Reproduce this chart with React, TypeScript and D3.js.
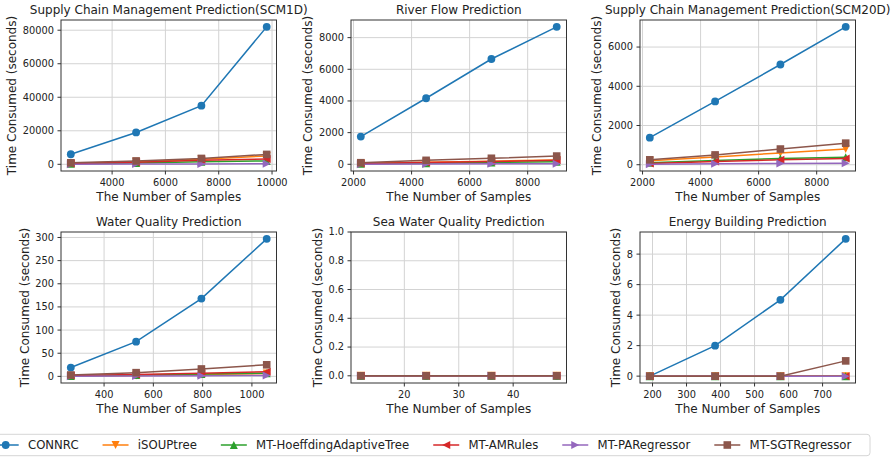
import React from "react";
import * as d3 from "d3";

// series / legend
const seriesNames = [
  "CONNRC",
  "iSOUPtree",
  "MT-HoeffdingAdaptiveTree",
  "MT-AMRules",
  "MT-PARegressor",
  "MT-SGTRegressor",
];
const seriesColors = ["#1f77b4", "#ff7f0e", "#2ca02c", "#d62728", "#9467bd", "#8c564b"];
const seriesMarkers = ["circle", "down", "up", "left", "right", "square"];

// Supply Chain Management Prediction(SCM1D)
const scm1dSamples = [2450, 4900, 7350, 9800];
const scm1dTimes = [
  [6000, 19000, 35000, 82000],
  [600, 1500, 3000, 5000],
  [300, 800, 1500, 2000],
  [500, 1200, 2400, 3200],
  [100, 150, 200, 300],
  [900, 2000, 3500, 5900],
];
const scm1dXTicks = [4000, 6000, 8000, 10000];
const scm1dYTicks = [0, 20000, 40000, 60000, 80000];

// River Flow Prediction
const riverSamples = [2250, 4500, 6750, 9000];
const riverTimes = [
  [1750, 4170, 6650, 8680],
  [60, 130, 200, 270],
  [30, 70, 110, 160],
  [50, 110, 180, 250],
  [10, 20, 30, 40],
  [100, 250, 380, 520],
];
const riverXTicks = [2000, 4000, 6000, 8000];
const riverYTicks = [0, 2000, 4000, 6000, 8000];

// Supply Chain Management Prediction(SCM20D)
const scm20dSamples = [2250, 4500, 6750, 9000];
const scm20dTimes = [
  [1380, 3230, 5110, 7030],
  [200, 400, 600, 800],
  [100, 220, 320, 380],
  [60, 170, 250, 320],
  [30, 50, 60, 80],
  [250, 500, 800, 1100],
];
const scm20dXTicks = [2000, 4000, 6000, 8000];
const scm20dYTicks = [0, 2000, 4000, 6000];

// Water Quality Prediction
const waterSamples = [265, 530, 795, 1060];
const waterTimes = [
  [19, 75, 168, 297],
  [1, 2, 4, 6],
  [1, 3, 5, 7],
  [2, 4, 7, 10],
  [0.5, 1, 1.5, 2],
  [3, 8, 16, 25],
];
const waterXTicks = [400, 600, 800, 1000];
const waterYTicks = [0, 50, 100, 150, 200, 250, 300];

// Sea Water Quality Prediction
const seaSamples = [12, 24, 36, 48];
const seaTimes = [
  [0, 0, 0, 0],
  [0, 0, 0, 0],
  [0, 0, 0, 0],
  [0, 0, 0, 0],
  [0, 0, 0, 0],
  [0, 0, 0, 0],
];
const seaXTicks = [20, 30, 40];
const seaYTicks = [0, 0.2, 0.4, 0.6, 0.8, 1.0];

// Energy Building Prediction
const energySamples = [192, 384, 576, 768];
const energyTimes = [
  [0, 2, 5, 9],
  [0, 0, 0, 0],
  [0, 0, 0, 0],
  [0, 0, 0, 0],
  [0, 0, 0, 0],
  [0, 0, 0, 1],
];
const energyXTicks = [200, 300, 400, 500, 600, 700];
const energyYTicks = [0, 2, 4, 6, 8];

const panels = [
  { title: "Supply Chain Management Prediction(SCM1D)", samples: scm1dSamples, times: scm1dTimes, xTicks: scm1dXTicks, yTicks: scm1dYTicks, dec: 0 },
  { title: "River Flow Prediction", samples: riverSamples, times: riverTimes, xTicks: riverXTicks, yTicks: riverYTicks, dec: 0 },
  { title: "Supply Chain Management Prediction(SCM20D)", samples: scm20dSamples, times: scm20dTimes, xTicks: scm20dXTicks, yTicks: scm20dYTicks, dec: 0 },
  { title: "Water Quality Prediction", samples: waterSamples, times: waterTimes, xTicks: waterXTicks, yTicks: waterYTicks, dec: 0 },
  { title: "Sea Water Quality Prediction", samples: seaSamples, times: seaTimes, xTicks: seaXTicks, yTicks: seaYTicks, dec: 1, yDomain: [-0.05, 1] },
  { title: "Energy Building Prediction", samples: energySamples, times: energyTimes, xTicks: energyXTicks, yTicks: energyYTicks, dec: 0 },
];

const W = 895;
const H = 457;
const colLeft = [61, 351, 640];
const rowTop = [20, 232];
const PW = 215.5;
const PH = 151;
const FONT = '"DejaVu Sans", sans-serif';
const TXT = "#222";

let ctx: CanvasRenderingContext2D | null = null;
function textWidth(s: string, size: number) {
  if (!ctx) ctx = document.createElement("canvas").getContext("2d");
  if (!ctx) return s.length * size * 0.6;
  ctx.font = `${size}px "DejaVu Sans"`;
  return ctx.measureText(s).width;
}

function padExtent(vals: number[]) {
  const [lo, hi] = d3.extent(vals) as [number, number];
  const d = (hi - lo) * 0.05;
  return [lo - d, hi + d];
}

const Marker = ({ type, x, y, color }: any) => {
  const s = 4;
  if (type === "circle") return <circle cx={x} cy={y} r={3.9} fill={color} />;
  if (type === "square") return <rect x={x - 3.8} y={y - 3.8} width={7.6} height={7.6} fill={color} />;
  let pts: number[][] = [];
  if (type === "down") pts = [[0, s], [-s, -s], [s, -s]];
  if (type === "up") pts = [[0, -s], [-s, s], [s, s]];
  if (type === "left") pts = [[-s, 0], [s, -s], [s, s]];
  if (type === "right") pts = [[s, 0], [-s, -s], [-s, s]];
  return <polygon points={pts.map((p) => `${x + p[0]},${y + p[1]}`).join(" ")} fill={color} />;
};

const Panel = ({ p, left, top }: any) => {
  const x = d3.scaleLinear().domain(padExtent(p.samples)).range([left, left + PW]);
  const y = d3
    .scaleLinear()
    .domain(p.yDomain ?? padExtent(p.times.flat()))
    .range([top + PH, top]);
  const fmt = (v: number) => v.toFixed(p.dec);
  const maxTick = d3.max(p.yTicks, (t: number) => textWidth(fmt(t), 9.8)) as number;
  const line = d3
    .line<number>()
    .x((_, i) => x(p.samples[i]))
    .y((d) => y(d));

  return (
    <g>
      {/* grid */}
      {p.xTicks.map((t: number) => (
        <line key={"gx" + t} x1={x(t)} x2={x(t)} y1={top} y2={top + PH} stroke="#d3d3d3" strokeWidth={1} />
      ))}
      {p.yTicks.map((t: number) => (
        <line key={"gy" + t} x1={left} x2={left + PW} y1={y(t)} y2={y(t)} stroke="#d3d3d3" strokeWidth={1} />
      ))}

      {/* series */}
      {p.times.map((vals: number[], si: number) => (
        <g key={si}>
          <path d={line(vals) as string} fill="none" stroke={seriesColors[si]} strokeWidth={1.5} />
          {vals.map((v, i) => (
            <Marker key={i} type={seriesMarkers[si]} x={x(p.samples[i])} y={y(v)} color={seriesColors[si]} />
          ))}
        </g>
      ))}

      {/* frame */}
      <rect x={left} y={top} width={PW} height={PH} fill="none" stroke="#333" strokeWidth={1} />

      {/* x ticks */}
      {p.xTicks.map((t: number) => (
        <g key={"tx" + t}>
          <line x1={x(t)} x2={x(t)} y1={top + PH} y2={top + PH + 3.5} stroke="#333" />
          <text x={x(t)} y={top + PH + 14.5} textAnchor="middle" fontSize={9.8} fill={TXT} fontFamily={FONT}>
            {t}
          </text>
        </g>
      ))}
      {/* y ticks */}
      {p.yTicks.map((t: number) => (
        <g key={"ty" + t}>
          <line x1={left - 3.5} x2={left} y1={y(t)} y2={y(t)} stroke="#333" />
          <text x={left - 7} y={y(t)} dy="0.35em" textAnchor="end" fontSize={9.8} fill={TXT} fontFamily={FONT}>
            {fmt(t)}
          </text>
        </g>
      ))}

      {/* labels */}
      <text x={left + PW / 2} y={top - 6.5} textAnchor="middle" fontSize={12} fill={TXT} fontFamily={FONT}>
        {p.title}
      </text>
      <text x={left + PW / 2} y={top + PH + 30} textAnchor="middle" fontSize={12} fill={TXT} fontFamily={FONT}>
        The Number of Samples
      </text>
      <text
        transform={`translate(${left - maxTick - 17.8},${top + PH / 2}) rotate(-90)`}
        dy="0.35em"
        textAnchor="middle"
        fontSize={12}
        fill={TXT}
        fontFamily={FONT}
      >
        Time Consumed (seconds)
      </text>
    </g>
  );
};

const Legend = () => {
  const fs = 11.7;
  const cy = 445;
  let cur = -7.3;
  const items = seriesNames.map((name, i) => {
    const start = cur;
    cur = start + 35.3 + textWidth(name, fs) + 24;
    return { name, i, start };
  });
  return (
    <g>
      <rect x={-20} y={434.3} width={890} height={21.4} rx={3} fill="#fff" stroke="#d6d6d6" strokeWidth={1} />
      {items.map(({ name, i, start }) => (
        <g key={name}>
          <line x1={start} x2={start + 26} y1={cy} y2={cy} stroke={seriesColors[i]} strokeWidth={1.5} />
          <Marker type={seriesMarkers[i]} x={start + 13} y={cy} color={seriesColors[i]} />
          <text x={start + 35.3} y={cy} dy="0.35em" fontSize={fs} fill={TXT} fontFamily={FONT}>
            {name}
          </text>
        </g>
      ))}
    </g>
  );
};

export default function App() {
  return (
    <svg width={W} height={H} style={{ position: "absolute", left: 0, top: 0, background: "#fff" }}>
      {panels.map((p, k) => (
        <Panel key={k} p={p} left={colLeft[k % 3]} top={rowTop[Math.floor(k / 3)]} />
      ))}
      <Legend />
    </svg>
  );
}
